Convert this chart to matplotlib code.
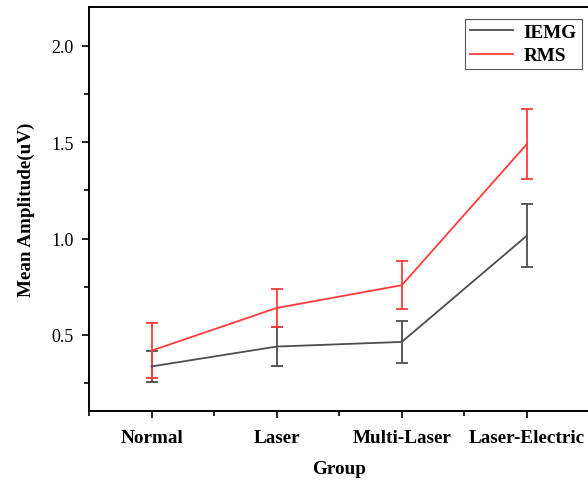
import matplotlib

matplotlib.use("Agg")
import matplotlib.pyplot as plt  # noqa: E402
from matplotlib.lines import Line2D  # noqa: E402
from matplotlib.ticker import MultipleLocator, FormatStrFormatter  # noqa: E402

groups = ["Normal", "Laser", "Multi-Laser", "Laser-Electric"]
iemg = [0.337, 0.440, 0.464, 1.015]
iemg_err = [0.081, 0.102, 0.111, 0.165]
rms = [0.419, 0.640, 0.758, 1.490]
rms_err = [0.142, 0.100, 0.125, 0.181]

GRAY, RED = "#4d4d4d", "#ff3b3b"

plt.rcParams["font.family"] = ["Liberation Serif", "DejaVu Serif"]

fig = plt.figure(figsize=(5.88, 4.81), dpi=100)
ax = fig.add_axes([89 / 588, 69 / 481, 500.5 / 588, 404 / 481])

xs = list(range(len(groups)))
ax.errorbar(xs, iemg, yerr=iemg_err, color=GRAY, lw=1.3, elinewidth=1.3,
            capsize=4, capthick=1.3)
ax.errorbar(xs, rms, yerr=rms_err, color=RED, lw=1.3, elinewidth=1.3,
            capsize=4, capthick=1.3)

ax.set_xlim(-0.5, 3.5)
ax.set_ylim(0.106, 2.2)
ax.set_xticks(xs)
ax.set_xticklabels(groups, fontweight="bold", fontsize=13.8)
ax.xaxis.set_minor_locator(MultipleLocator(1, offset=0.5))
ax.yaxis.set_major_locator(MultipleLocator(0.5))
ax.yaxis.set_minor_locator(MultipleLocator(0.25))
ax.yaxis.set_major_formatter(FormatStrFormatter("%.1f"))
ax.tick_params(axis="both", which="major", direction="out", length=5, width=1.2)
ax.tick_params(axis="both", which="minor", direction="out", length=3.5, width=1.2)
ax.tick_params(axis="y", labelsize=13, pad=6)
ax.tick_params(axis="x", pad=8)
for s in ax.spines.values():
    s.set_linewidth(1.4)

ax.set_xlabel("Group", fontweight="bold", fontsize=13.8, labelpad=10)
ax.set_ylabel("Mean Amplitude(uV)", fontweight="bold", fontsize=13.8, labelpad=12)

handles = [Line2D([], [], color=GRAY, lw=1.3), Line2D([], [], color=RED, lw=1.3)]
leg = ax.legend(handles, ["IEMG", "RMS"], loc="upper right",
                bbox_to_anchor=(0.992, 0.98),
                prop={"weight": "bold", "size": 13.8}, fancybox=False,
                edgecolor="#555555", framealpha=1, handlelength=2.25,
                borderpad=0.25, labelspacing=0.3, handletextpad=0.55,
                borderaxespad=0.2)
leg.get_frame().set_linewidth(0.8)

fig.savefig("out.png", dpi=100)
